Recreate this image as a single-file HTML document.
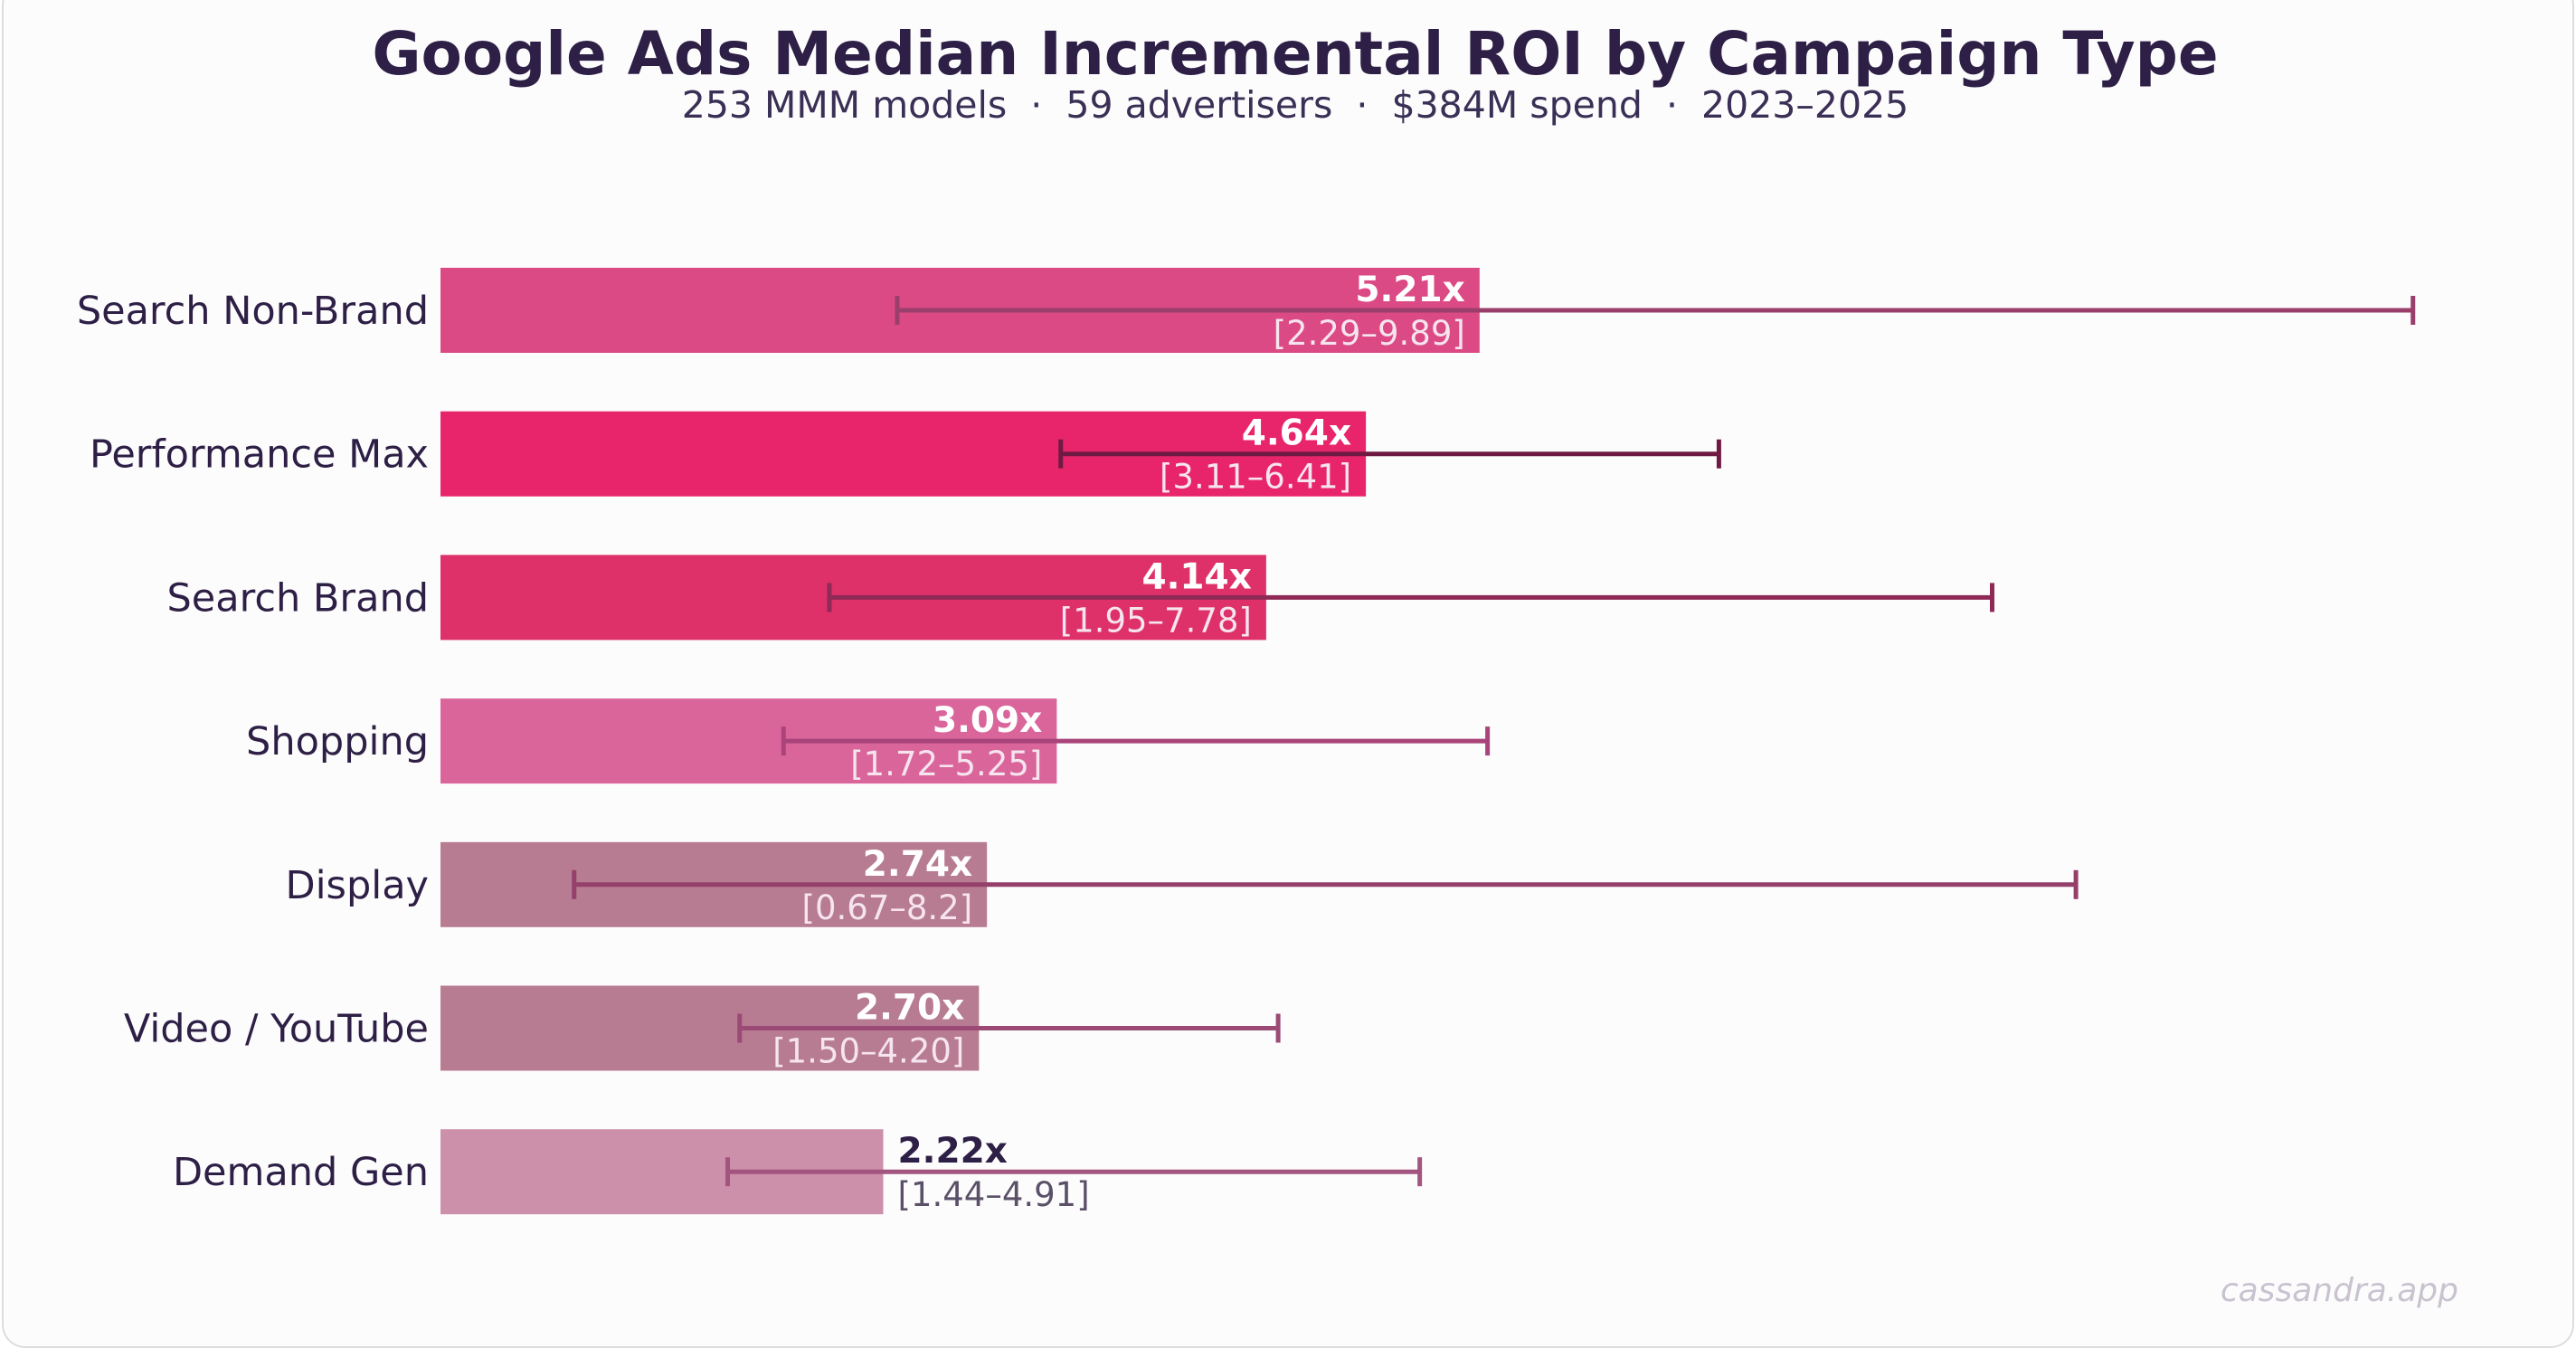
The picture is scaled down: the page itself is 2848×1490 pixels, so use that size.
<!DOCTYPE html>
<html><head><meta charset="utf-8">
<style>
html,body{margin:0;padding:0;background:#fff;}
body{width:2848px;height:1490px;overflow:hidden;font-family:"Liberation Sans","DejaVu Sans",sans-serif;}
#frame{position:absolute;left:2px;top:-20px;width:2840px;height:1506px;border:2px solid #ddd;border-radius:26px;background:#fdfcfd;}
</style></head>
<body>
<div id="frame"></div>
<svg id="chart" width="2848" height="1490" style="position:absolute;left:0;top:0">
<text x="1432" y="82" text-anchor="middle" font-family="DejaVu Sans, sans-serif" font-weight="bold" font-size="66" fill="#2d1f45">Google Ads Median Incremental ROI by Campaign Type</text>
<text x="1432" y="130" text-anchor="middle" font-family="DejaVu Sans, sans-serif" font-size="41" fill="#3a2f55">253 MMM models &#160;·&#160; 59 advertisers &#160;·&#160; $384M spend &#160;·&#160; 2023–2025</text>
<g id="bars"></g>
<text x="2718" y="1438" text-anchor="end" font-family="DejaVu Sans, sans-serif" font-style="italic" font-size="36" fill="#c9c3cf">cassandra.app</text>
</svg>
<script>
const categories=["Search Non-Brand","Performance Max","Search Brand","Shopping","Display","Video / YouTube","Demand Gen"];
const medians=[5.21,4.64,4.14,3.09,2.74,2.70,2.22];
const lows=[2.29,3.11,1.95,1.72,0.67,1.50,1.44];
const highs=[9.89,6.41,7.78,5.25,8.2,4.20,4.91];
const rangeLabels=["[2.29–9.89]","[3.11–6.41]","[1.95–7.78]","[1.72–5.25]","[0.67–8.2]","[1.50–4.20]","[1.44–4.91]"];
const barColors=["#db4a84","#e8256a","#de3069","#da659b","#b77c91","#b77c91","#cd90ab"];
const errColors=["#9a3f6c","#6e1a42","#8e2a55","#a8447a","#94406a","#9a4a74","#a1557f"];
const x0=487, k=220.5, rowY0=343, rowStep=158.7, barH=94;
const X=v=>x0+v*k;
const Y=i=>rowY0+i*rowStep;
const NS="http://www.w3.org/2000/svg";
const g=document.getElementById('bars');
function mk(tag,attrs){const e=document.createElementNS(NS,tag);for(const a in attrs)e.setAttribute(a,attrs[a]);return e;}
categories.forEach((c,i)=>{
  const cy=Y(i);
  const lab=mk('text',{x:474,y:cy+15,'text-anchor':'end','font-family':'DejaVu Sans, sans-serif','font-size':'43',fill:'#2d1f45'});
  lab.textContent=c;
  
  
  g.appendChild(lab);
  const r=mk('rect',{x:x0,y:cy-barH/2,width:X(medians[i])-x0,height:barH,fill:barColors[i]});
  
  
  g.appendChild(r);
  const eg=mk('g',{stroke:errColors[i],'stroke-width':5});
  
  
  eg.appendChild(mk('line',{x1:X(lows[i]),x2:X(highs[i]),y1:cy,y2:cy}));
  eg.appendChild(mk('line',{x1:X(lows[i]),x2:X(lows[i]),y1:cy-16,y2:cy+16}));
  eg.appendChild(mk('line',{x1:X(highs[i]),x2:X(highs[i]),y1:cy-16,y2:cy+16}));
  g.appendChild(eg);
  const inside=i<categories.length-1;
  const tx=inside?X(medians[i])-16:X(medians[i])+16;
  const anchor=inside?'end':'start';
  const v=mk('text',{x:tx,y:cy-10,'text-anchor':anchor,'font-family':'DejaVu Sans, sans-serif','font-weight':'bold','font-size':'39',fill:inside?'#ffffff':'#2d1f45'});
  v.textContent=medians[i].toFixed(2)+'x';
  
  
  g.appendChild(v);
  const rl=mk('text',{x:tx,y:cy+38,'text-anchor':anchor,'font-family':'DejaVu Sans, sans-serif','font-size':'37',fill:inside?'#f6e4ee':'#5a5068'});
  rl.textContent=rangeLabels[i];
  
  
  g.appendChild(rl);
});
</script>
</body></html>
